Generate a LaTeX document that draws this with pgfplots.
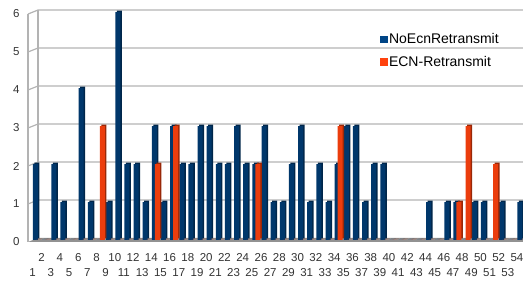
\documentclass[border=0pt]{standalone}
\usepackage{fontspec}
\setmainfont{Liberation Sans}
\usepackage{pgfplots}
\pgfplotsset{compat=1.18}
\usepackage{pgfplotstable}
\definecolor{ser1}{HTML}{004586}
\definecolor{ser2}{HTML}{FF420E}
\definecolor{gridc}{HTML}{B3B3B3}
\definecolor{floorc}{HTML}{929292}
\newcommand\lo[1]{\raisebox{-15pt}{#1}}
\pgfplotstableread{
k noecn ecn
1 2 0
2 0 0
3 2 0
4 1 0
5 0 0
6 4 0
7 1 0
8 0 3
9 1 0
10 6 0
11 2 0
12 2 0
13 1 0
14 3 2
15 1 0
16 3 3
17 2 0
18 2 0
19 3 0
20 3 0
21 2 0
22 2 0
23 3 0
24 2 0
25 2 2
26 3 0
27 1 0
28 1 0
29 2 0
30 3 0
31 1 0
32 2 0
33 1 0
34 2 3
35 3 0
36 3 0
37 1 0
38 2 0
39 2 0
40 0 0
41 0 0
42 0 0
43 0 0
44 1 0
45 0 0
46 1 0
47 1 1
48 0 3
49 1 0
50 1 0
51 0 2
52 1 0
53 0 0
54 1 0
}\data
\begin{document}
\begin{tikzpicture}
\path[use as bounding box] (-28pt,-42pt) rectangle (495pt,242pt);
\begin{axis}[
  scale only axis, width=495pt, height=228pt,
  xmin=0.508, xmax=54.66, ymin=0, ymax=6,
  clip=false,
  axis line style={draw=none},
  major tick length=0pt,
  ytick={0,...,6},
  xtick={1,...,54},
  xticklabels={\lo{1},2,\lo{3},4,\lo{5},6,\lo{7},8,\lo{9},10,\lo{11},12,\lo{13},14,\lo{15},16,\lo{17},18,\lo{19},20,\lo{21},22,\lo{23},24,\lo{25},26,\lo{27},28,\lo{29},30,\lo{31},32,\lo{33},34,\lo{35},36,\lo{37},38,\lo{39},40,\lo{41},42,\lo{43},44,\lo{45},46,\lo{47},48,\lo{49},50,\lo{51},52,\lo{53},54},
  xticklabel style={anchor=base, yshift=-20pt, font=\fontsize{11.5}{13}\selectfont, text=black!80},
  yticklabel style={anchor=east, xshift=-5pt, font=\fontsize{11.5}{13}\selectfont, text=black!80},
  /pgf/number format/assume math mode=true,
  legend style={draw=none, fill=none, inner sep=0pt, font=\fontsize{14}{16}\selectfont,
    row sep=7pt, at={(0.711,0.925)}, anchor=north west},
  legend cell align=left,
]
% walls and floor
\fill[floorc] (axis cs:0.508,0) -- ++(10pt,4pt) -- ([yshift=4pt]axis cs:54.66,0) -- (axis cs:54.66,0) -- cycle;
\pgfplotsinvokeforeach{1,...,6}{
  \draw[gridc, line width=1.2pt] (axis cs:0.508,#1) -- ++(10pt,4pt) -- ([yshift=4pt]axis cs:54.66,#1);
}
\draw[gridc, line width=1.2pt] (axis cs:0.508,0) -- (axis cs:0.508,6);
\draw[gridc, line width=1.2pt] ([xshift=10pt,yshift=4pt]axis cs:0.508,0) -- ([xshift=10pt,yshift=4pt]axis cs:0.508,6);
% bars
\addplot[ybar, bar width=5pt, bar shift=4.5pt, fill=ser1!55!black, draw=none, yshift=3.5pt, forget plot] table[x=k,y=noecn]{\data};
\addplot[ybar, bar width=5pt, bar shift=3pt, fill=ser1!80!black, draw=none, yshift=2pt, forget plot] table[x=k,y=noecn]{\data};
\addplot[ybar, bar width=5pt, bar shift=7.5pt, fill=ser2!60!black, draw=none, yshift=3.5pt, forget plot] table[x=k,y=ecn]{\data};
\addplot[ybar, bar width=5pt, bar shift=6pt, fill=ser2!92!black, draw=none, yshift=2pt, forget plot] table[x=k,y=ecn]{\data};
\addlegendimage{legend image code/.code={\fill[ser1] (0pt,-3.2pt) rectangle (6.5pt,3.3pt);}}
\addlegendentry{NoEcnRetransmit}
\addlegendimage{legend image code/.code={\fill[ser2] (0pt,-3.2pt) rectangle (6.5pt,3.3pt);}}
\addlegendentry{ECN-Retransmit}
\end{axis}
\end{tikzpicture}
\end{document}
